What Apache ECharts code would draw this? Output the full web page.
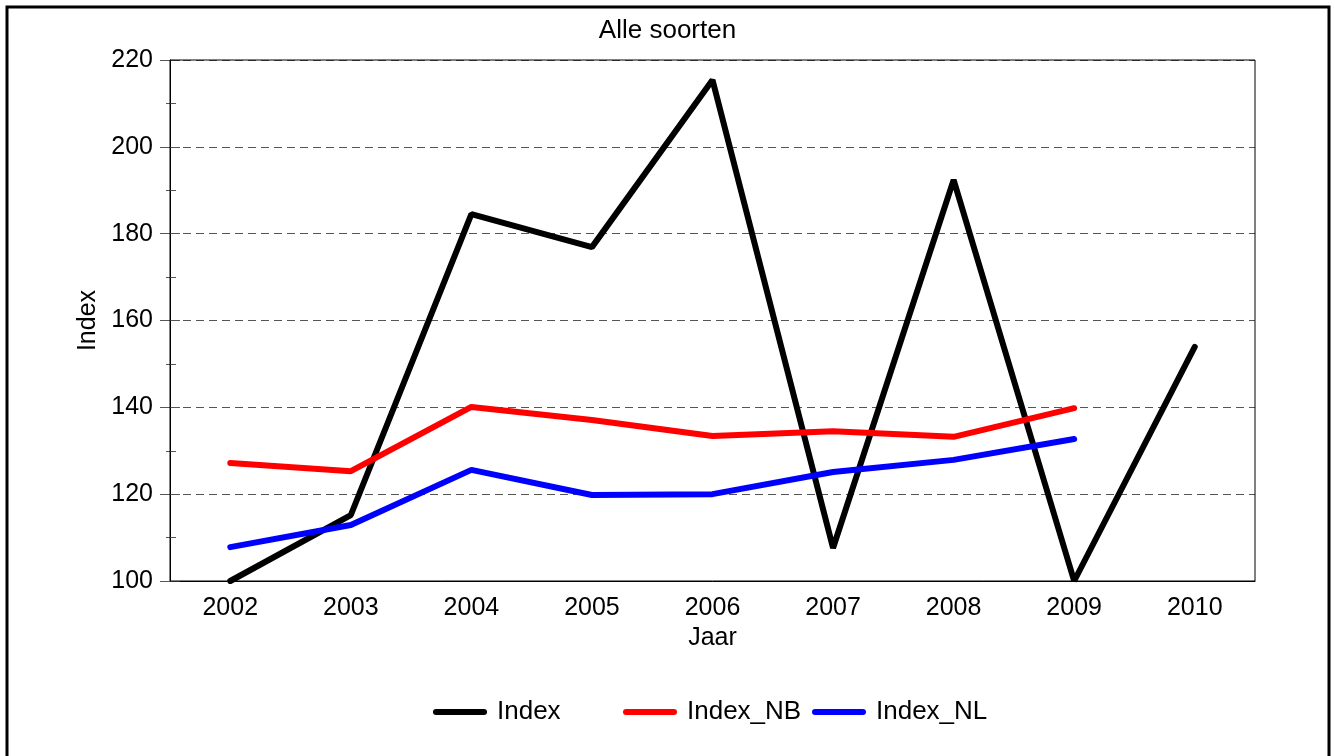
<!DOCTYPE html>
<html>
<head>
<meta charset="utf-8">
<script src="https://cdn.jsdelivr.net/npm/echarts@6/dist/echarts.min.js"></script>
<style>
    html, body { margin: 0; padding: 0; background: #fff; }
    #chart { width: 1335px; height: 756px; }
</style>
</head>
<body>
<div id="chart"></div>
<script>
var years = ['2002', '2003', '2004', '2005', '2006', '2007', '2008', '2009', '2010'];
var index = [100, 115.2, 184.5, 176.9, 215.4, 107.6, 192.4, 100, 153.9];
var indexNB = [127.2, 125.3, 140.1, 137.1, 133.4, 134.5, 133.2, 139.8];
var indexNL = [107.8, 112.9, 125.6, 119.8, 120.0, 125.1, 127.9, 132.7];

var font = 'Liberation Sans, Arial, sans-serif';
var chart = echarts.init(document.getElementById('chart'));

// one legend per item, the original puts them in fixed slots
function legendAt(left, name) {
    return {
        left: left,
        top: 694,
        data: [name],
        icon: 'path://M3,0 L51,0 A3,3 0 0 1 51,6 L3,6 A3,3 0 0 1 3,0 Z',
        itemWidth: 54,
        itemHeight: 6,
        textStyle: { fontFamily: font, fontSize: 26, color: '#000', padding: [0, 0, 0, 5] },
        itemGap: 0
    };
}

chart.setOption({
    backgroundColor: '#fff',
    animation: false,
    title: {
        text: 'Alle soorten',
        left: 'center',
        top: 13,
        textStyle: { fontFamily: font, fontSize: 26, fontWeight: 'normal', color: '#000' }
    },
    graphic: [{
        type: 'rect',
        shape: { x: 7, y: 7, width: 1322, height: 800 },
        style: { fill: 'none', stroke: '#000', lineWidth: 3 }
    }, {
        type: 'rect',
        shape: { x: 170, y: 60, width: 1085, height: 521 },
        style: { fill: 'none', stroke: '#000', lineWidth: 1 },
        z: 1
    }],
    legend: [legendAt(428, 'Index'), legendAt(618, 'Index_NB'), legendAt(807, 'Index_NL')],
    grid: { left: 170, right: 80, top: 60, bottom: 175 },
    xAxis: [{
        type: 'category',
        data: years,
        boundaryGap: true,
        name: 'Jaar',
        nameLocation: 'middle',
        nameGap: 45,
        nameTextStyle: { fontFamily: font, fontSize: 25, color: '#000' },
        axisLine: { lineStyle: { color: '#000', width: 1 } },
        axisTick: { alignWithLabel: true, length: 8, lineStyle: { color: '#555' } },
        axisLabel: { fontFamily: font, fontSize: 25, color: '#000', margin: 15 }
    }, {
        type: 'category',
        data: years,
        position: 'bottom',
        boundaryGap: true,
        axisLine: { show: false },
        axisTick: { inside: true, alignWithLabel: true, length: 8, lineStyle: { color: '#555' } },
        axisLabel: { show: false }
    }],
    yAxis: [{
        type: 'value',
        min: 100,
        max: 220,
        interval: 20,
        name: 'Index',
        nameLocation: 'middle',
        nameGap: 68,
        nameTextStyle: { fontFamily: font, fontSize: 25, color: '#000' },
        axisLine: { show: true, lineStyle: { color: '#000', width: 1 } },
        axisTick: { show: true, length: 10, lineStyle: { color: '#555' } },
        minorTick: { show: true, splitNumber: 2, length: 4, lineStyle: { color: '#555' } },
        axisLabel: { fontFamily: font, fontSize: 25, color: '#000', margin: 17 },
        splitLine: { show: true, lineStyle: { color: '#555', type: [8, 5], width: 1 } }
    }, {
        type: 'value',
        min: 100,
        max: 220,
        interval: 20,
        position: 'left',
        axisLine: { show: false },
        axisTick: { show: true, inside: true, length: 10, lineStyle: { color: '#555' } },
        minorTick: { show: true, splitNumber: 2, length: 6, lineStyle: { color: '#555' } },
        axisLabel: { show: false },
        splitLine: { show: false }
    }],
    series: [{
        name: 'Index',
        type: 'line',
        data: index,
        symbol: 'none',
        color: '#000',
        lineStyle: { color: '#000', width: 6, cap: 'round' },
        z: 3
    }, {
        name: 'Index_NB',
        type: 'line',
        data: indexNB,
        symbol: 'none',
        color: '#ff0000',
        lineStyle: { color: '#ff0000', width: 6, cap: 'round' },
        z: 4
    }, {
        name: 'Index_NL',
        type: 'line',
        data: indexNL,
        symbol: 'none',
        color: '#0000ff',
        lineStyle: { color: '#0000ff', width: 6, cap: 'round' },
        z: 5
    }]
});
</script>
</body>
</html>
